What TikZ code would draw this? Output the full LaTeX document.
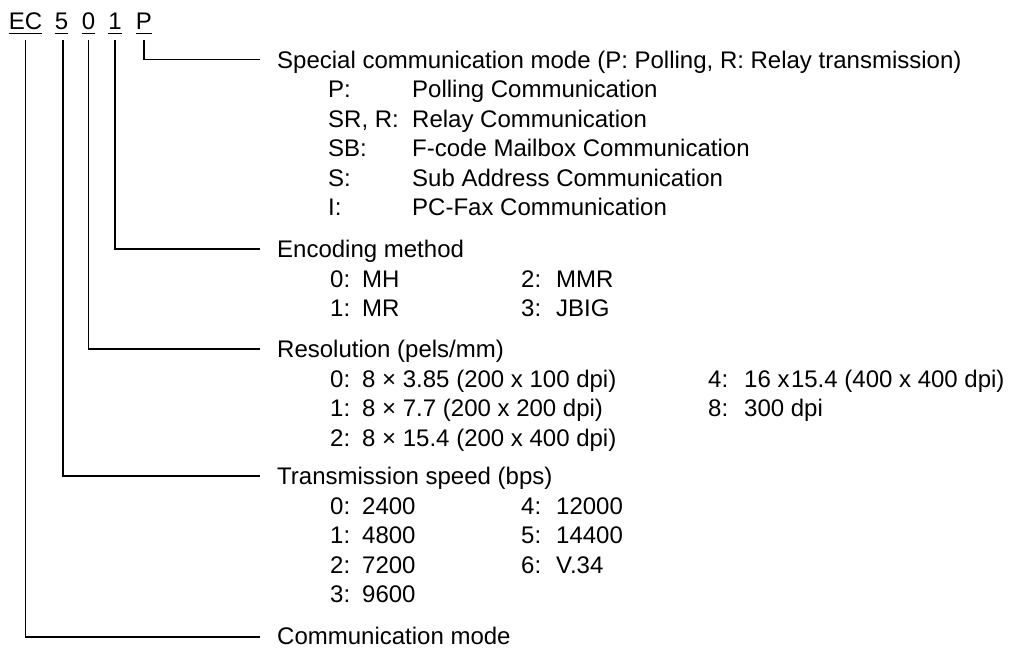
\documentclass[tikz,border=0pt]{standalone}
\usepackage{fontspec}
\setmainfont{Liberation Sans}
\tikzset{
  txt/.style={anchor=base west, inner sep=0pt, font=\fontsize{24}{29}\selectfont},
  hdr/.style={anchor=base, inner sep=0pt, font=\fontsize{24}{29}\selectfont},
  conn/.style={draw=black, line width=1.1pt},
  uline/.style={draw=black, line width=1.1pt}
}
\begin{document}
\begin{tikzpicture}[x=1pt,y=-1pt]
\useasboundingbox (0,0) rectangle (1009,650);
% header
\node[hdr] (hEC) at (25.5,30) {EC};
\node[hdr] (h5) at (61.5,30) {5};
\node[hdr] (h0) at (88.5,30) {0};
\node[hdr] (h1) at (115,30) {1};
\node[hdr] (hP) at (144,30) {P};
\foreach \n in {hEC,h5,h0,h1,hP}{
  \draw[uline] ([yshift=-3pt]\n.south west) -- ([yshift=-3pt]\n.south east);
}
% headings (baseline = line y + 8.6)
\def\lx{277}
\def\ax{328}\def\bx{412}
\def\cx{330}\def\dx{362}
\def\ex{521}\def\fx{556}
\def\gx{708}\def\hx{744}
\node[txt] (tSpec) at (\lx,68.1) {Special communication mode (P: Polling, R: Relay transmission)};
\node[txt] (sP) at (\ax,97.6) {P:};
\node[txt] (vP) at (\bx,97.6) {Polling Communication};
\node[txt] (sSR) at (\ax,127.1) {SR, R:};
\node[txt] (vSR) at (\bx,127.1) {Relay Communication};
\node[txt] (sSB) at (\ax,156.6) {SB:};
\node[txt] (vSB) at (\bx,156.6) {F-code Mailbox Communication};
\node[txt] (sS) at (\ax,186.1) {S:};
\node[txt] (vS) at (\bx,186.1) {Sub Address Communication};
\node[txt] (sI) at (\ax,215.6) {I:};
\node[txt] (vI) at (\bx,215.6) {PC-Fax Communication};
% encoding
\node[txt] (tEnc) at (\lx,257.6) {Encoding method};
\node[txt] (e0) at (\cx,287.1) {0:};
\node[txt] (e0v) at (\dx,287.1) {MH};
\node[txt] (e1) at (\cx,316.6) {1:};
\node[txt] (e1v) at (\dx,316.6) {MR};
\node[txt] (e2) at (\ex,287.1) {2:};
\node[txt] (e2v) at (\fx,287.1) {MMR};
\node[txt] (e3) at (\ex,316.6) {3:};
\node[txt] (e3v) at (\fx,316.6) {JBIG};
% resolution
\node[txt] (tRes) at (\lx,357.6) {Resolution (pels/mm)};
\node[txt] (r0) at (\cx,387.1) {0:};
\node[txt] (r0v) at (\dx,387.1) {8 × 3.85 (200 x 100 dpi)};
\node[txt] (r1) at (\cx,416.6) {1:};
\node[txt] (r1v) at (\dx,416.6) {8 × 7.7 (200 x 200 dpi)};
\node[txt] (r2) at (\cx,446.1) {2:};
\node[txt] (r2v) at (\dx,446.1) {8 × 15.4 (200 x 400 dpi)};
\node[txt] (r4) at (\gx,387.1) {4:};
\node[txt] (r4v) at (\hx,387.1) {16 x\hspace{1.5pt}15.4 (400 x 400 dpi)};
\node[txt] (r8) at (\gx,416.6) {8:};
\node[txt] (r8v) at (\hx,416.6) {300 dpi};
% transmission
\node[txt] (tTx) at (\lx,484.6) {Transmission speed (bps)};
\node[txt] (x0) at (\cx,514.1) {0:};
\node[txt] (x0v) at (\dx,514.1) {2400};
\node[txt] (x1) at (\cx,543.6) {1:};
\node[txt] (x1v) at (\dx,543.6) {4800};
\node[txt] (x2) at (\cx,573.1) {2:};
\node[txt] (x2v) at (\dx,573.1) {7200};
\node[txt] (x3) at (\cx,602.6) {3:};
\node[txt] (x3v) at (\dx,602.6) {9600};
\node[txt] (x4) at (\ex,514.1) {4:};
\node[txt] (x4v) at (\fx,514.1) {12000};
\node[txt] (x5) at (\ex,543.6) {5:};
\node[txt] (x5v) at (\fx,543.6) {14400};
\node[txt] (x6) at (\ex,573.1) {6:};
\node[txt] (x6v) at (\fx,573.1) {V.34};
% communication mode
\node[txt] (tCom) at (\lx,644.5) {Communication mode};
% connectors
\coordinate (eSpec) at (260,59.5);
\coordinate (eEnc) at (260,249);
\coordinate (eRes) at (260,349);
\coordinate (eTx) at (260,476);
\coordinate (eCom) at (260,637);
\draw[conn] ([yshift=-10pt]hP.south) |- (eSpec);
\draw[conn] ([yshift=-10pt]h1.south) |- (eEnc);
\draw[conn] ([yshift=-10pt]h0.south) |- (eRes);
\draw[conn] ([xshift=1.5pt,yshift=-10pt]h5.south) |- (eTx);
\draw[conn] ([yshift=-10pt]hEC.south) |- (eCom);
\end{tikzpicture}
\end{document}
